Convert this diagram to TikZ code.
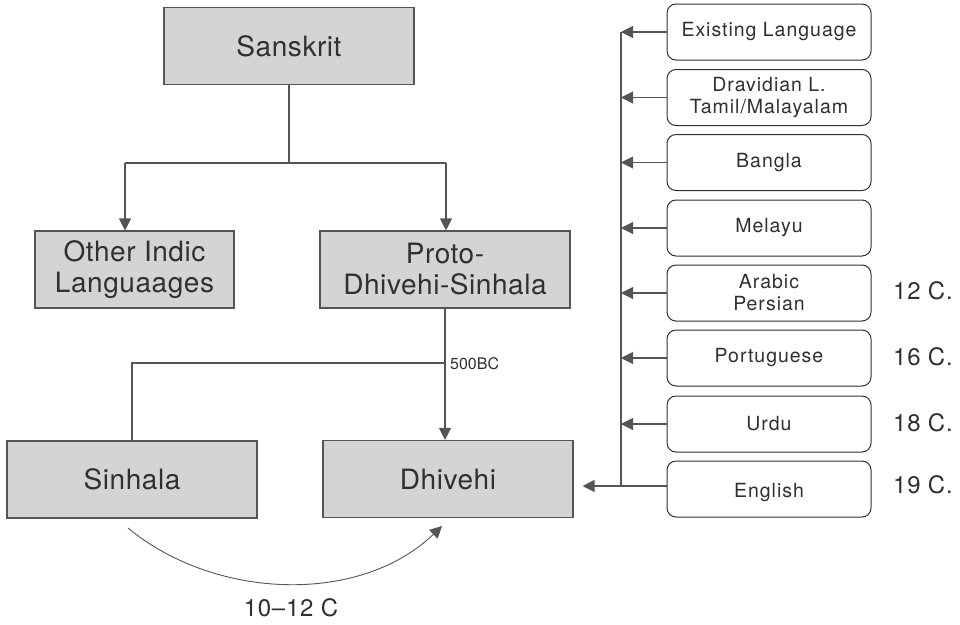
\documentclass[tikz,border=0pt]{standalone}
\usepackage{fontspec}
\setmainfont{TeX Gyre Heros}
\newfontfamily\bigf[LetterSpace=2]{TeX Gyre Heros}
\newfontfamily\smf[LetterSpace=5]{TeX Gyre Heros}
\newfontfamily\cf[LetterSpace=3]{TeX Gyre Heros}
\usetikzlibrary{arrows.meta}
\definecolor{boxfill}{HTML}{D3D4D6}
\definecolor{edge}{HTML}{555555}
\definecolor{ink}{HTML}{303030}
\begin{document}
\begin{tikzpicture}[x=1pt,y=-1pt,
  gbox/.style={draw=edge,line width=1.1pt,fill=boxfill,inner sep=0pt,
    minimum width=250pt,minimum height=77pt,text=ink,align=center,
    font=\bigf\fontsize{28}{31}\selectfont},
  rbox/.style={draw=ink,line width=1pt,fill=white,rounded corners=9pt,inner sep=0pt,
    minimum width=204pt,minimum height=56pt,text=ink,align=center,
    font=\smf\fontsize{19.5}{22}\selectfont},
  conn/.style={draw=edge,line width=1.1pt},
  arr/.style={conn,-{Triangle[length=12pt,width=12pt]}},
  cent/.style={text=ink,font=\cf\fontsize{24}{28}\selectfont,anchor=west,inner sep=0pt}]
\useasboundingbox (0,0) rectangle (960,624);
% main boxes
\node[gbox] (san) at (289,46) {Sanskrit};
\node[gbox,minimum width=199pt] (oth) at (134.5,269.5) {Other Indic\\Languaages};
\node[gbox] (pro) at (445,269.5) {Proto-\\Dhivehi-Sinhala};
\node[gbox] (sin) at (132,479.5) {Sinhala};
\node[gbox] (dhi) at (448,479) {Dhivehi};
% tree connectors
\coordinate (jl) at (125,163);
\coordinate (jr) at (446,163);
\draw[conn] (san.south) -- (san.south |- jl);
\draw[conn] (jl) -- (jr);
\draw[arr] (jl) -- (jl |- oth.north);
\draw[arr] (jr) -- (jr |- pro.north);
\draw[arr] (pro.south) -- (pro.south |- dhi.north);
\coordinate (j5) at (445,363);
\draw[conn] (j5) -| (sin.north);
\node[text=ink,font=\fontsize{16}{18}\selectfont,anchor=west,inner sep=0pt] (bc) at (450,364) {500BC};
% curved arrow
\coordinate (cs) at (128,528);
\coordinate (ce) at (442,526);
\draw[arr,line width=0.9pt] (cs) .. controls (215,600) and (360,605) .. (ce);
\node[text=ink,font=\cf\fontsize{24}{28}\selectfont,inner sep=0pt] (dates) at (291,608) {10–12 C};
% right boxes
\node[rbox] (r1) at (769,32) {Existing Language};
\node[rbox] (r2) at (769,97.5) {Dravidian L.\\Tamil/Malayalam};
\node[rbox] (r3) at (769,162.5) {Bangla};
\node[rbox] (r4) at (769,228) {Melayu};
\node[rbox] (r5) at (769,293) {Arabic\\Persian};
\node[rbox] (r6) at (769,358) {Portuguese};
\node[rbox] (r7) at (769,424) {Urdu};
\node[rbox] (r8) at (769,489) {\raisebox{-4pt}[\height][\depth]{English}};
\coordinate (vt) at (621,32);
\coordinate (vb) at (621,486);
\draw[conn] (vt) -- (vb);
\foreach \i in {1,...,7} \draw[arr] (r\i.west) -- (r\i.west -| vt);
\coordinate (de) at ([xshift=9pt]dhi.east |- vb);
\draw[arr] (r8.west |- vb) -- (de);
% century labels
\node[cent] (c12) at (893,291) {12 C.};
\node[cent] (c16) at (893,357) {16 C.};
\node[cent] (c18) at (893,423) {18 C.};
\node[cent] (c19) at (893,485) {19 C.};
\end{tikzpicture}
\end{document}
